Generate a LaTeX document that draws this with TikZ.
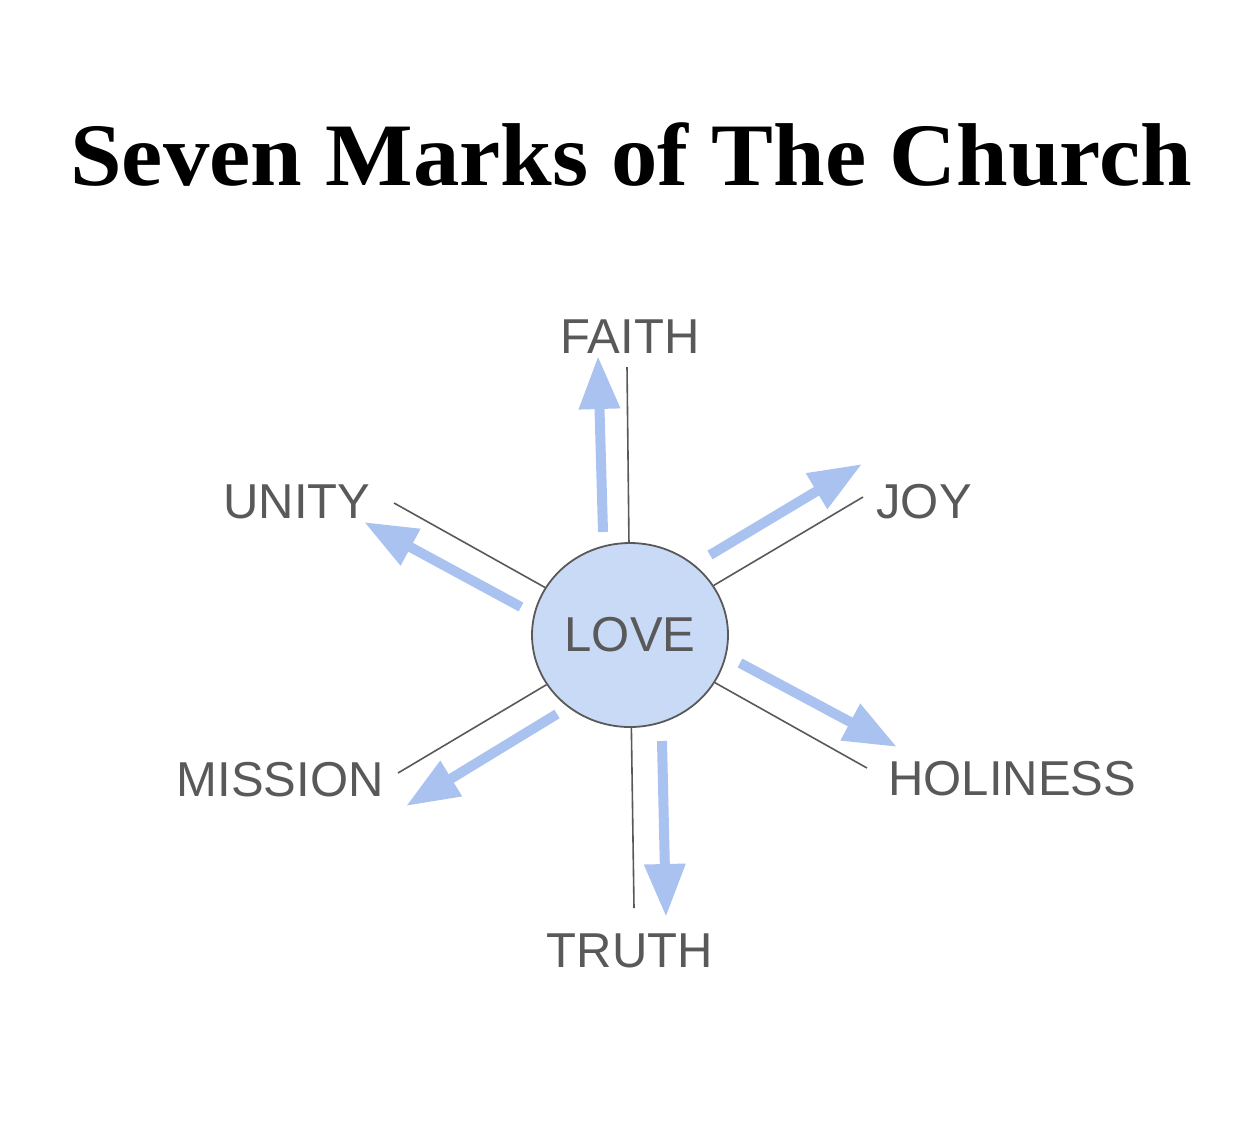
\documentclass[tikz,border=0pt]{standalone}
\usepackage{fontspec}
\usepackage{graphicx}
\usepackage{tikz}
\usetikzlibrary{shapes.geometric}
\usetikzlibrary{arrows.meta}
\newfontfamily\titlefont{Liberation Serif}
\newfontfamily\markfont{Liberation Sans}
\definecolor{markgray}{HTML}{595959}
\definecolor{lovefill}{HTML}{C9DAF6}
\definecolor{flowblue}{HTML}{A9C2EF}
\tikzset{
  mark node/.style={inner sep=0pt,text=markgray,font=\markfont\fontsize{24.5pt}{28pt}\selectfont},
  love node/.style={ellipse,draw=markgray,line width=0.9pt,fill=lovefill,
    minimum width=98pt,minimum height=92pt,inner sep=0pt,text=markgray,
    font=\markfont\fontsize{24.5pt}{28pt}\selectfont},
  ray/.style={draw=markgray,line width=0.8pt},
  flow/.style={draw=flowblue,line width=5pt,-{Triangle[length=26.5pt,width=19.5pt]}}
}
\begin{document}
\begin{tikzpicture}[x=0.5pt,y=-0.5pt]
  \useasboundingbox (0,0) rectangle (1256,1126);
  \node [anchor=base west,inner sep=0pt] (title) at (70,185)
    {\scalebox{1.04}[1]{\titlefont\bfseries\fontsize{44.6pt}{50pt}\selectfont Seven Marks of The Church}};
  \node [love node] (love) at (630,635) {LOVE};
  % labels
  \node [mark node,anchor=base] (faith) at (630,353) {FAITH};
  \node [mark node,anchor=base west] (joy) at (876,518) {JOY};
  \node [mark node,anchor=base east] (unity) at (371,518) {UNITY};
  \node [mark node,anchor=base east] (mission) at (384,796) {MISSION};
  \node [mark node,anchor=base west] (holiness) at (888,795) {HOLINESS};
  \node [mark node,anchor=base] (truth) at (630,967) {TRUTH};
  % thin rays
  \coordinate (faith-r) at (627,367);
  \coordinate (joy-r) at (863,497);
  \coordinate (unity-r) at (394,503);
  \coordinate (mission-r) at (398,773);
  \coordinate (holiness-r) at (867,768);
  \coordinate (truth-r) at (634,908);
  \foreach \m in {faith,joy,unity,mission,holiness,truth}
    \draw [ray] (love) -- (\m-r);
  % blue arrows
  \coordinate (faith-a) at (603,532);   \coordinate (faith-b) at (598,356);
  \coordinate (joy-a) at (710,555);     \coordinate (joy-b) at (862,464);
  \coordinate (unity-a) at (521,607);   \coordinate (unity-b) at (364,522);
  \coordinate (mission-a) at (557,714); \coordinate (mission-b) at (406,806);
  \coordinate (holiness-a) at (740,663);\coordinate (holiness-b) at (897,747);
  \coordinate (truth-a) at (662,741);   \coordinate (truth-b) at (666,917);
  \foreach \m in {faith,joy,unity,mission,holiness,truth}
    \draw [flow] (\m-a) -- (\m-b);
\end{tikzpicture}
\end{document}
